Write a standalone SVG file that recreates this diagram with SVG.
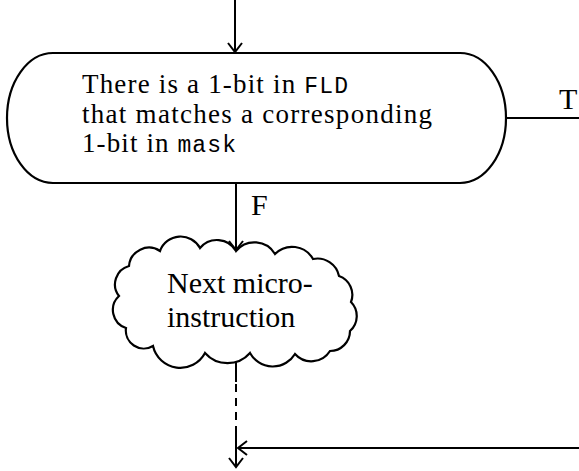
<svg xmlns="http://www.w3.org/2000/svg" width="579" height="471" viewBox="0 0 579 471">
<style>
  .shape{fill:#fff;stroke:#000;stroke-width:2.2;}
  .ln{fill:none;stroke:#000;stroke-width:2;}
  .t{font-family:"Liberation Serif","Times New Roman",serif;font-size:30px;fill:#000;}
  .b{font-size:27px;}
  .m{font-family:"Liberation Mono","Courier New",monospace;font-size:23px;}
</style>
<defs>
  <marker id="arr" markerUnits="userSpaceOnUse" viewBox="-11 -9 13 18" refX="0" refY="0" markerWidth="13" markerHeight="18" orient="auto">
    <path d="M-9,-7 L0,0 L-9,7" fill="none" stroke="#000" stroke-width="2"/>
  </marker>
</defs>
<g id="connectors">
  <path class="ln" d="M235,0 V52" marker-end="url(#arr)"/>
  <path class="ln" d="M506,118 H579"/>
  <path class="ln" d="M236,183 V250" marker-end="url(#arr)"/>
  <path class="ln" d="M236,362 V382"/>
  <path class="ln" d="M236,384 V428" stroke-dasharray="8 6"/>
  <path class="ln" d="M236,428 V467" marker-end="url(#arr)"/>
  <path class="ln" d="M579,448 H238" marker-end="url(#arr)"/>
  <text class="t" x="559" y="109">T</text>
  <text class="t" x="251" y="215">F</text>
</g>
<g id="decision">
  <path class="shape" d="M53,53 H460 A46,65 0 0 1 460,183 H53 A46,65 0 0 1 53,53 Z"/>
  <text class="t b" x="82" y="93" textLength="266" lengthAdjust="spacing">There is a 1-bit in <tspan class="m">FLD</tspan></text>
  <text class="t b" x="82" y="122.5" textLength="350" lengthAdjust="spacing">that matches a corresponding</text>
  <text class="t b" x="82" y="152" textLength="154" lengthAdjust="spacing">1-bit in <tspan class="m">mask</tspan></text>
</g>
<g id="next">
  <path class="shape" d="M236,251 A24,24 0 0 1 275,254 A24,24 0 0 1 313,259 A22,22 0 0 1 339,276 A20,20 0 0 1 351,302 A20,20 0 0 1 350,331 A20,20 0 0 1 330,351 A22,22 0 0 1 295,354 A26,26 0 0 1 250,353 A30,30 0 0 1 205,353 A28,28 0 0 1 153,346 A18,18 0 0 1 126,328 A19,19 0 0 1 119,296 A19,19 0 0 1 129,266 A20,20 0 0 1 160,251 A22,22 0 0 1 200,248 A22,22 0 0 1 236,251 Z"/>
  <text class="t" x="167" y="293">Next micro-</text>
  <text class="t" x="167" y="327">instruction</text>
</g>
</svg>
